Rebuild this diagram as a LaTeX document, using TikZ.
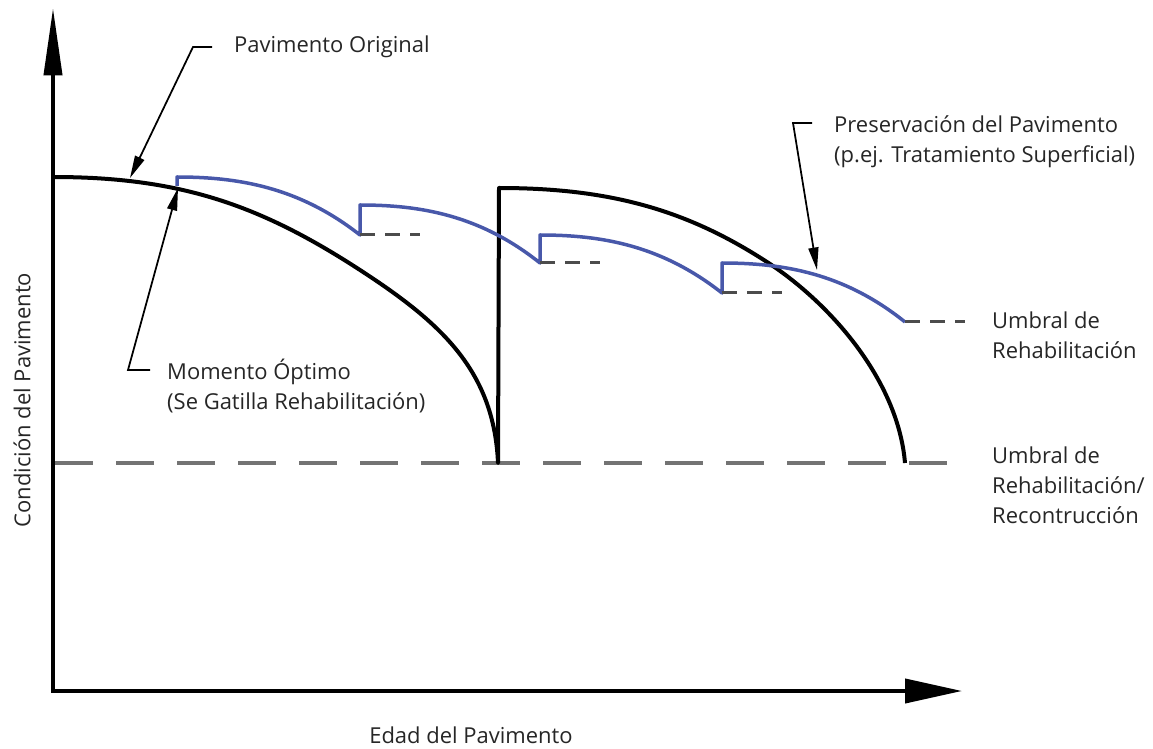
\documentclass[tikz,border=0pt]{standalone}
\usepackage{fontspec}
\setmainfont{Open Sans}
\usetikzlibrary{arrows.meta}
\definecolor{pavblue}{RGB}{72,88,170}
\def\unitpx{0.2mm}

\begin{document}
\begin{tikzpicture}
[x=\unitpx, y=-\unitpx,
every node/.style={
  font=\fontsize{12.5}{17}\selectfont, text=black!85
},
note/.style={
  anchor=west, align=left
},
axis/.style={
  line width=0.8mm, black
},
original/.style={
  line width=0.8mm, black, line join=round
},
preservation/.style={
  line width=0.7mm, pavblue, line join=round
},
threshold/.style={
  line width=0.8mm, black!55, dash pattern=on 7.6mm off 4.6mm
},
tail/.style={
  line width=0.6mm, black!70, dash pattern=on 3mm off 2mm
},
pointer/.style={
  line width=0.35mm, black, -{Triangle[length=4.5mm,width=2mm]}
}
]
\useasboundingbox (0,0) rectangle (1153,749);

% Axes
\coordinate (origin) at (53,691);
\coordinate (ytop) at (53,8);
\coordinate (xend) at (962,691);
\draw[axis, -{Triangle[length=13.5mm,width=3.6mm]}] (origin) -- (ytop);
\draw[axis, -{Triangle[length=11.4mm,width=4.8mm]}] ([xshift=-0.4mm]origin) -- (xend);
\node (edad) at (471,735) {Edad del Pavimento};
\node[rotate=90] (condicion) at (22,400) {Condición del Pavimento};

% Rehabilitation / reconstruction threshold
\draw[threshold] (55,463) -- (965,463);

% Original pavement and reconstruction
\draw[original] (53,177) .. controls (180,177) and (260,205) .. (360,270)
  .. controls (440,322) and (494,370) .. (498,463)
  -- (499,188)
  .. controls (610,188) and (687,210) .. (767,262)
  .. controls (830,303) and (898,380) .. (905,463);

% Preservation treatments
\draw[preservation] (177,186) -- (177,177)
  .. controls (238,177) and (299,187) .. (360,235) -- (360,205)
  .. controls (420,205) and (480,215) .. (540,263) -- (540,235)
  .. controls (601,235) and (661,245) .. (722,293) -- (722,263)
  .. controls (783,263) and (844,273) .. (905,322);
\draw[tail] (360,235) -- (420,235);
\draw[tail] (540,263) -- (600,263);
\draw[tail] (722,293) -- (782,293);
\draw[tail] (905,322) -- (965,322);

% Labels
\node[note] (orig) at (228,47) {Pavimento Original};
\node[note] (pres) at (828,142) {Preservación del Pavimento\\(p.ej. Tratamiento Superficial)};
\node[note] (optimo) at (161,386) {Momento Óptimo\\(Se Gatilla Rehabilitación)};
\node[note] (umbral) at (986,335) {Umbral de\\Rehabilitación};
\node[note] (umbralrec) at (986,485) {Umbral de\\Rehabilitación/\\Recontrucción};

% Pointers
\coordinate (origtip) at (130,178);
\coordinate (optimotip) at (178,188);
\coordinate (prestip) at (817,270);
\draw[pointer] ([xshift=-3.2mm]orig.west) -- ++(-19,0) -- (origtip);
\draw[pointer] ([xshift=-2.2mm]optimo.west |- 0,370) -- ++(-22,0) -- (optimotip);
\draw[pointer] ([xshift=-3.2mm]pres.west |- 0,123) -- ++(-19,0) -- (prestip);

\end{tikzpicture}
\end{document}
